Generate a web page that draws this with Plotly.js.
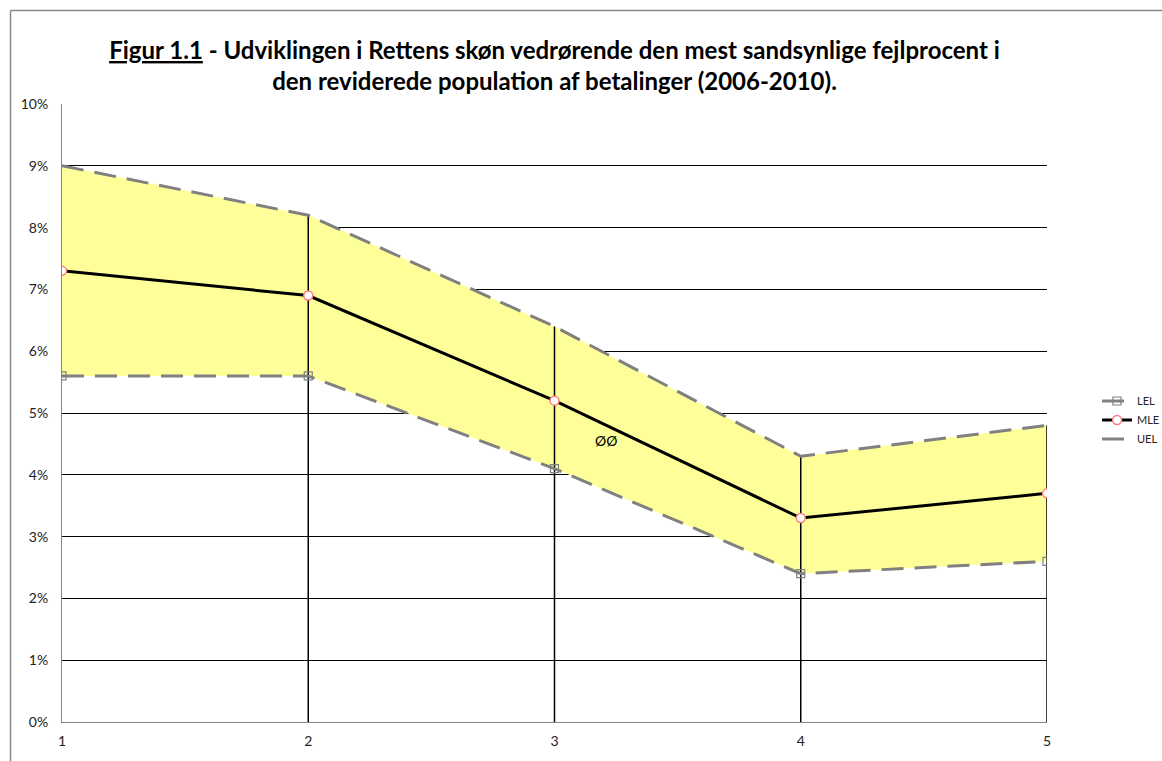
<!DOCTYPE html>
<html>
<head>
<meta charset="utf-8">
<script src="https://cdn.plot.ly/plotly-3.0.1.min.js"></script>
<style>
  html, body { margin: 0; padding: 0; background: #fff; overflow: hidden; }
  #chart { width: 1162px; height: 761px; }
</style>
</head>
<body>
<div id="chart"></div>
<script>
// Data (percent)
const xCats = [1, 2, 3, 4, 5];
const lelValues = [5.6, 5.6, 4.1, 2.4, 2.6];
const mleValues = [7.3, 6.9, 5.2, 3.3, 3.7];
const uelValues = [9.0, 8.2, 6.4, 4.3, 4.8];
const yTickVals = [0, 1, 2, 3, 4, 5, 6, 7, 8, 9, 10];
const yTickText = ['0%', '1%', '2%', '3%', '4%', '5%', '6%', '7%', '8%', '9%', '10%'];
const annoText = 'ØØ';
const annoX = 3.21;
const annoY = 4.56;

// drop lines from the upper series down to zero (categories 2..5)
const dropX = [], dropY = [];
for (let i = 1; i < xCats.length; i++) {
  dropX.push(xCats[i], xCats[i], null);
  dropY.push(0, uelValues[i], null);
}

const FONT = 'Lato, "Open Sans", sans-serif';
const GRAY = '#808080';
const DASH = '22px,11px';

const traces = [
  { x: xCats, y: lelValues, mode: 'lines', line: { width: 0, color: 'rgba(0,0,0,0)' },
    showlegend: false, hoverinfo: 'skip' },
  { x: xCats, y: uelValues, mode: 'lines', fill: 'tonexty', fillcolor: '#FFFF99',
    line: { width: 0, color: 'rgba(0,0,0,0)' }, showlegend: false, hoverinfo: 'skip' },
  { x: dropX, y: dropY, mode: 'lines', line: { color: '#000', width: 1.5 },
    showlegend: false, hoverinfo: 'skip' },
  { name: 'LEL', x: xCats, y: lelValues, mode: 'lines+markers',
    line: { color: GRAY, width: 3, dash: DASH },
    marker: { symbol: 'square-open', size: 8, color: GRAY, line: { width: 1.2, color: GRAY } } },
  { name: 'MLE', x: xCats, y: mleValues, mode: 'lines+markers',
    line: { color: '#000', width: 3 },
    marker: { symbol: 'circle', size: 9, color: '#fff', line: { width: 1.5, color: '#FF7C80' } } },
  { name: 'UEL', x: xCats, y: uelValues, mode: 'lines',
    line: { color: GRAY, width: 3, dash: DASH } }
];

const PW = 985, PH = 618;
const fx = px => (px - 62) / PW;
const fy = py => (722 - py) / PH;

const layout = {
  width: 1162, height: 761,
  margin: { l: 62, r: 115, t: 104, b: 39, autoexpand: false },
  paper_bgcolor: '#fff', plot_bgcolor: '#fff',
  font: { family: FONT, color: '#222', size: 14 },
  title: {
    text: '<u>Figur 1.1</u> - Udviklingen i Rettens skøn vedrørende den mest sandsynlige fejlprocent i<br>den reviderede population af betalinger (2006-2010).',
    font: { family: FONT, size: 24, color: '#000', weight: 'bold' },
    x: 0.5, xref: 'paper', xanchor: 'center',
    y: 1 - 59 / 761, yref: 'container', yanchor: 'top'
  },
  xaxis: {
    range: [1, 5], tickvals: xCats, ticktext: xCats.map(String),
    showgrid: false, zeroline: false, showline: true, linecolor: '#868686', linewidth: 1,
    ticks: '', ticklabelstandoff: 6, tickfont: { size: 14, color: '#222' }, fixedrange: true
  },
  yaxis: {
    range: [0, 10], tickvals: yTickVals, ticktext: yTickText,
    showgrid: true, gridcolor: '#000', gridwidth: 1, zeroline: false,
    showline: true, linecolor: '#868686', linewidth: 1,
    ticks: '', ticklabelstandoff: 10, tickfont: { size: 14, color: '#222' }, fixedrange: true
  },
  legend: {
    xref: 'container', yref: 'container',
    x: 1097 / 1162, xanchor: 'left', y: 1 - 420 / 761, yanchor: 'middle',
    traceorder: 'normal',
    font: { size: 11, color: '#222', family: FONT },
    bgcolor: 'rgba(0,0,0,0)', tracegroupgap: 0
  },
  annotations: [
    { x: annoX, y: annoY, xref: 'x', yref: 'y', text: annoText, showarrow: false,
      font: { size: 14, color: '#000', family: FONT } }
  ],
  shapes: [
    { type: 'line', xref: 'paper', yref: 'paper', layer: 'above',
      x0: fx(10.5), x1: fx(10.5), y0: fy(10.5), y1: fy(765),
      line: { color: '#888888', width: 1.5 } },
    { type: 'line', xref: 'paper', yref: 'paper', layer: 'above',
      x0: fx(10.5), x1: fx(1165), y0: fy(10.5), y1: fy(10.5),
      line: { color: '#888888', width: 1.5 } }
  ],
  showlegend: true
};

Plotly.newPlot('chart', traces, layout, { displayModeBar: false, staticPlot: true });
</script>
</body>
</html>
